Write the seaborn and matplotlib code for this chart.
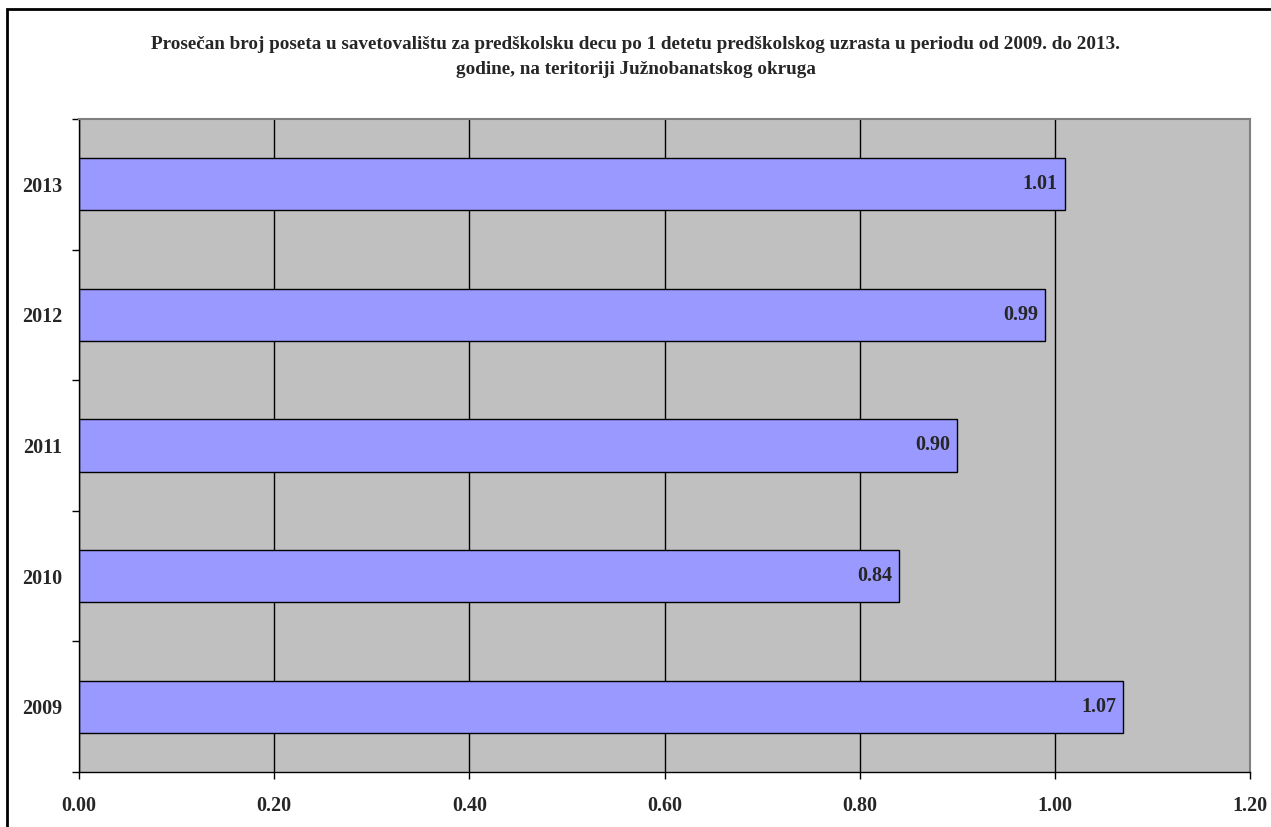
import matplotlib
matplotlib.use("Agg")
import matplotlib.pyplot as plt
import numpy as np
import pandas as pd
import seaborn as sns
from matplotlib.patches import Rectangle

years = ["2013", "2012", "2011", "2010", "2009"]
visits = [1.01, 0.99, 0.90, 0.84, 1.07]
x_ticks = [0.0, 0.2, 0.4, 0.6, 0.8, 1.0, 1.2]
title = ("Prosečan broj poseta u savetovalištu za predškolsku decu po 1 detetu predškolskog uzrasta u periodu od 2009. do 2013.\n"
         "godine, na teritoriji Južnobanatskog okruga")

sns.set_style("white")
plt.rcParams['font.family'] = ['Liberation Serif', 'DejaVu Serif']
plt.rcParams['font.weight'] = 'bold'

df = pd.DataFrame({"year": years, "visits": visits})

fig = plt.figure(figsize=(12.71, 8.27), dpi=100)
ax = fig.add_axes([79 / 1271, 1 - 772 / 827, (1250 - 79) / 1271, (772 - 119) / 827])
ax.set_facecolor("#c0c0c0")

sns.barplot(data=df, x="visits", y="year", order=years, orient="h",
            color="#9999ff", saturation=1, width=0.4,
            edgecolor="black", linewidth=1, ax=ax)

ax.set_xlim(0, 1.2)
ax.set_ylim(4.5, -0.5)
ax.set_xticks(x_ticks)
ax.set_xticklabels([f"{t:.2f}" for t in x_ticks], fontsize=14.5, fontweight="bold")
ax.set_yticks(range(len(years)))
ax.set_yticklabels(years, fontsize=14.5, fontweight="bold")
ax.set_yticks(np.arange(-0.5, len(years), 1), minor=True)
ax.tick_params(axis="y", which="major", left=True, length=0, pad=12)
ax.tick_params(axis="y", which="minor", left=True, length=5, width=1, color="black", direction="out")
ax.tick_params(axis="x", bottom=True, length=5, width=1, color="black", direction="out", pad=12)
ax.set_xlabel("")
ax.set_ylabel("")

ax.grid(axis="x", color="black", linewidth=1)
ax.set_axisbelow(True)
for side in ["left", "bottom"]:
    ax.spines[side].set_color("black")
    ax.spines[side].set_linewidth(1)
for side in ["top", "right"]:
    ax.spines[side].set_visible(True)
    ax.spines[side].set_color("#808080")
    ax.spines[side].set_linewidth(1.5)

for i, v in enumerate(visits):
    ax.annotate(f"{v:.2f}", xy=(v, i), xytext=(-5, 0), textcoords="offset points",
                ha="right", va="center", fontsize=14.5, fontweight="bold")

fig.text(0.5, 1 - 57 / 827, title, ha="center", va="center", fontsize=13.8,
         fontweight="bold", linespacing=1.55)

fig.patches.append(Rectangle((7 / 1271, -0.1), 1.2, 1.1 - 9 / 827, transform=fig.transFigure,
                             fill=False, edgecolor="black", linewidth=2))

fig.savefig("out.png", dpi=100)
